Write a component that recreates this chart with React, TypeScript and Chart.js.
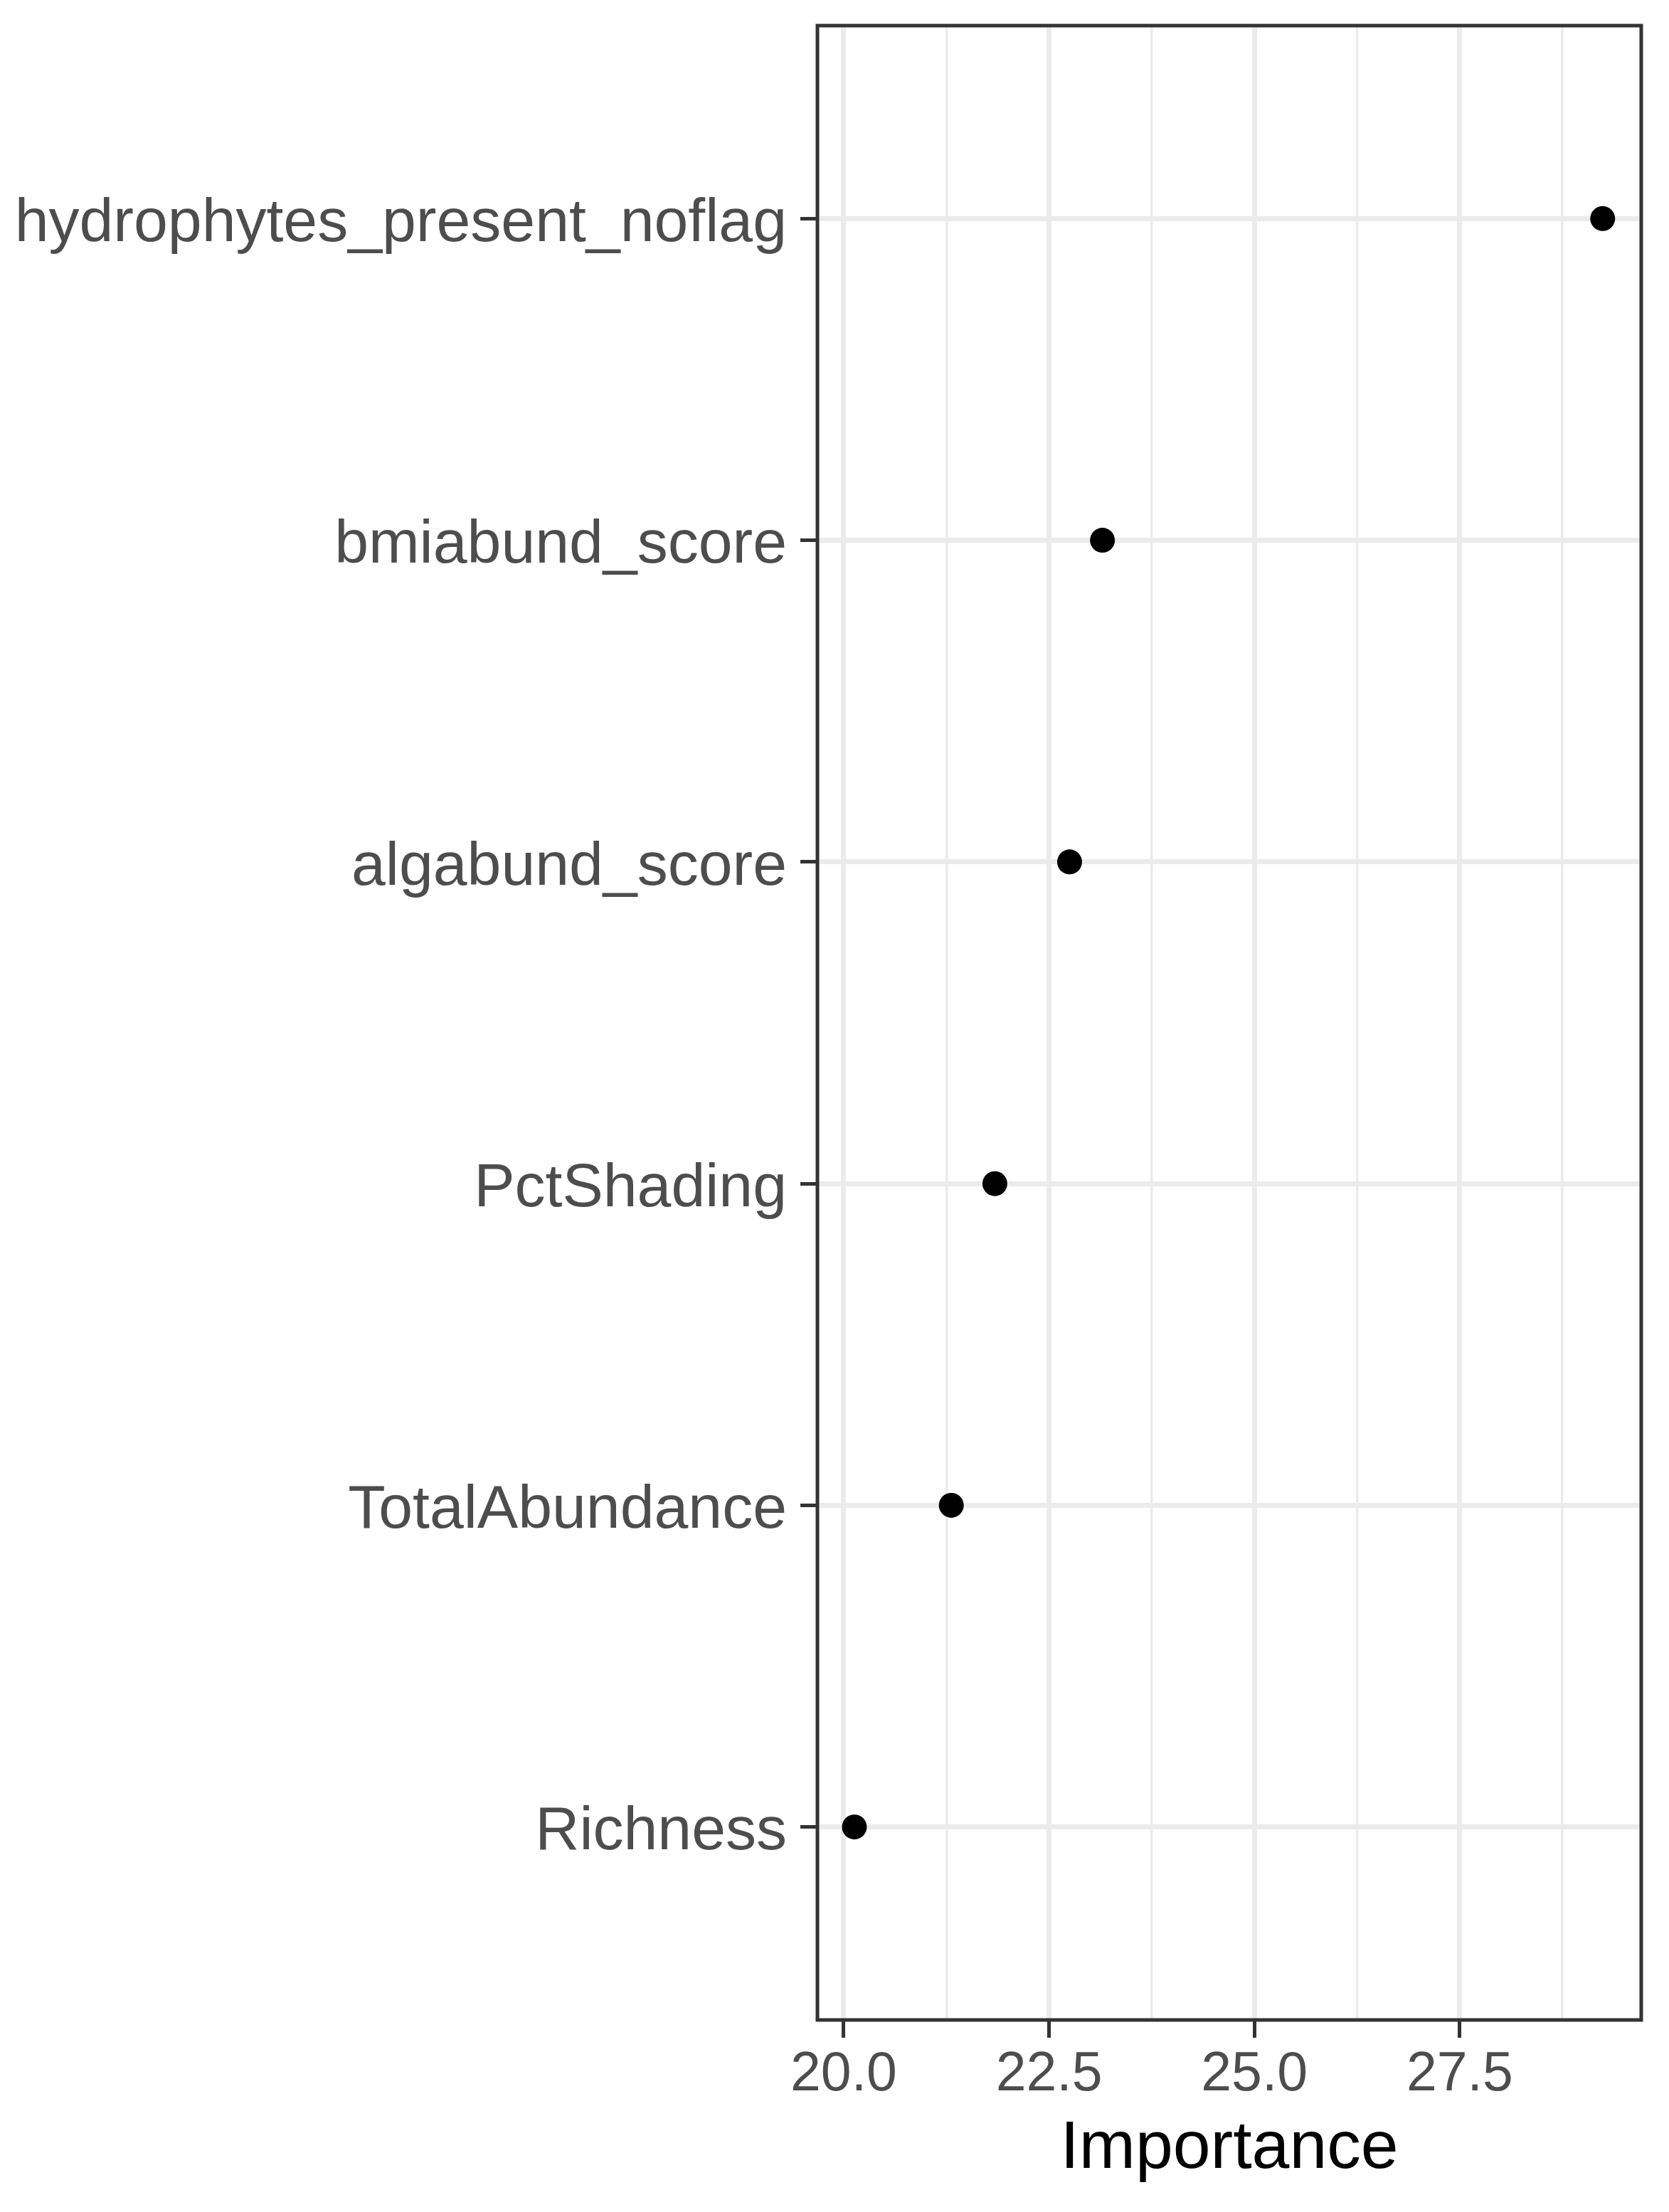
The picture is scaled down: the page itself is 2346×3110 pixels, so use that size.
import React, { useEffect, useRef } from "react";
import { Chart, registerables } from "chart.js";

Chart.register(...registerables);

// ---- data ----
const variables: string[] = [
  "hydrophytes_present_noflag",
  "bmiabund_score",
  "algabund_score",
  "PctShading",
  "TotalAbundance",
  "Richness",
];
const importance: number[] = [29.24, 23.15, 22.75, 21.84, 21.31, 20.13];
const xMajorTicks: number[] = [20.0, 22.5, 25.0, 27.5];
const xMinorTicks: number[] = [21.25, 23.75, 26.25, 28.75];
const xTitle = "Importance";
const xRange: number[] = [19.68, 29.71];

const W = 2346;
const H = 3110;
const FONT = "'Liberation Sans', Arial, Helvetica, sans-serif";

const framePlugin = {
  id: "panelFrame",
  afterDatasetsDraw(chart: any) {
    const { ctx, chartArea } = chart;
    ctx.save();
    ctx.strokeStyle = "#333333";
    ctx.lineWidth = 5;
    ctx.strokeRect(
      chartArea.left,
      chartArea.top,
      chartArea.right - chartArea.left,
      chartArea.bottom - chartArea.top
    );
    ctx.restore();
  },
};

export default function App() {
  const ref = useRef<HTMLCanvasElement | null>(null);

  useEffect(() => {
    document.body.style.margin = "0";
    const canvas = ref.current;
    if (!canvas) return;
    const points = importance.map((v, i) => ({ x: v, y: i + 1 }));
    const chart = new Chart(canvas, {
      type: "scatter",
      data: {
        datasets: [
          {
            data: points,
            backgroundColor: "#000000",
            borderWidth: 0,
            pointRadius: 17.5,
            pointHoverRadius: 17.5,
          },
        ],
      },
      options: {
        animation: false,
        responsive: false,
        devicePixelRatio: 1,
        layout: { padding: { top: 36, right: 39, bottom: 0, left: 0 } },
        plugins: {
          legend: { display: false },
          tooltip: { enabled: false },
        },
        scales: {
          x: {
            type: "linear",
            position: "bottom",
            min: xRange[0],
            max: xRange[1],
            afterBuildTicks: (scale: any) => {
              scale.ticks = xMajorTicks.map((v) => ({ value: v }));
            },
            afterFit: (scale: any) => {
              scale.height = 270;
              scale.paddingLeft = 0;
              scale.paddingRight = 0;
            },
            border: { display: false },
            grid: {
              color: "#EBEBEB",
              lineWidth: 7,
              drawTicks: true,
              tickLength: 25,
              tickColor: "#333333",
              tickWidth: 5,
            },
            ticks: {
              autoSkip: false,
              maxRotation: 0,
              padding: 7,
              color: "#4D4D4D",
              font: { family: FONT, size: 77 },
              callback: (v: any) => Number(v).toFixed(1),
            },
            title: {
              display: true,
              text: xTitle,
              color: "#000000",
              font: { family: FONT, size: 95 },
              padding: { top: 0, bottom: 31 },
            },
          },
          x2: {
            type: "linear",
            position: "bottom",
            min: xRange[0],
            max: xRange[1],
            afterBuildTicks: (scale: any) => {
              scale.ticks = xMinorTicks.map((v) => ({ value: v }));
            },
            afterFit: (scale: any) => {
              scale.height = 0;
              scale.paddingLeft = 0;
              scale.paddingRight = 0;
            },
            border: { display: false },
            grid: {
              color: "#EBEBEB",
              lineWidth: 3.5,
              drawTicks: false,
              tickLength: 0,
            },
            ticks: { display: false },
          },
          y: {
            type: "linear",
            position: "left",
            reverse: true,
            min: 0.4,
            max: 6.6,
            afterBuildTicks: (scale: any) => {
              scale.ticks = variables.map((_, i) => ({ value: i + 1 }));
            },
            afterFit: (scale: any) => {
              scale.width = 1149;
              scale.paddingTop = 0;
              scale.paddingBottom = 0;
            },
            border: { display: false },
            grid: {
              color: "#EBEBEB",
              lineWidth: 7,
              drawTicks: true,
              tickLength: 24,
              tickColor: "#333333",
              tickWidth: 5,
            },
            ticks: {
              autoSkip: false,
              padding: 19,
              labelOffset: 8,
              color: "#4D4D4D",
              font: { family: FONT, size: 86 },
              callback: (v: any) => variables[Math.round(Number(v)) - 1] ?? "",
            },
          },
        },
      } as any,
      plugins: [framePlugin],
    });
    return () => chart.destroy();
  }, []);

  return (
    <div style={{ width: W, height: H, background: "#ffffff" }}>
      <canvas ref={ref} width={W} height={H} style={{ display: "block", width: W, height: H }} />
    </div>
  );
}
